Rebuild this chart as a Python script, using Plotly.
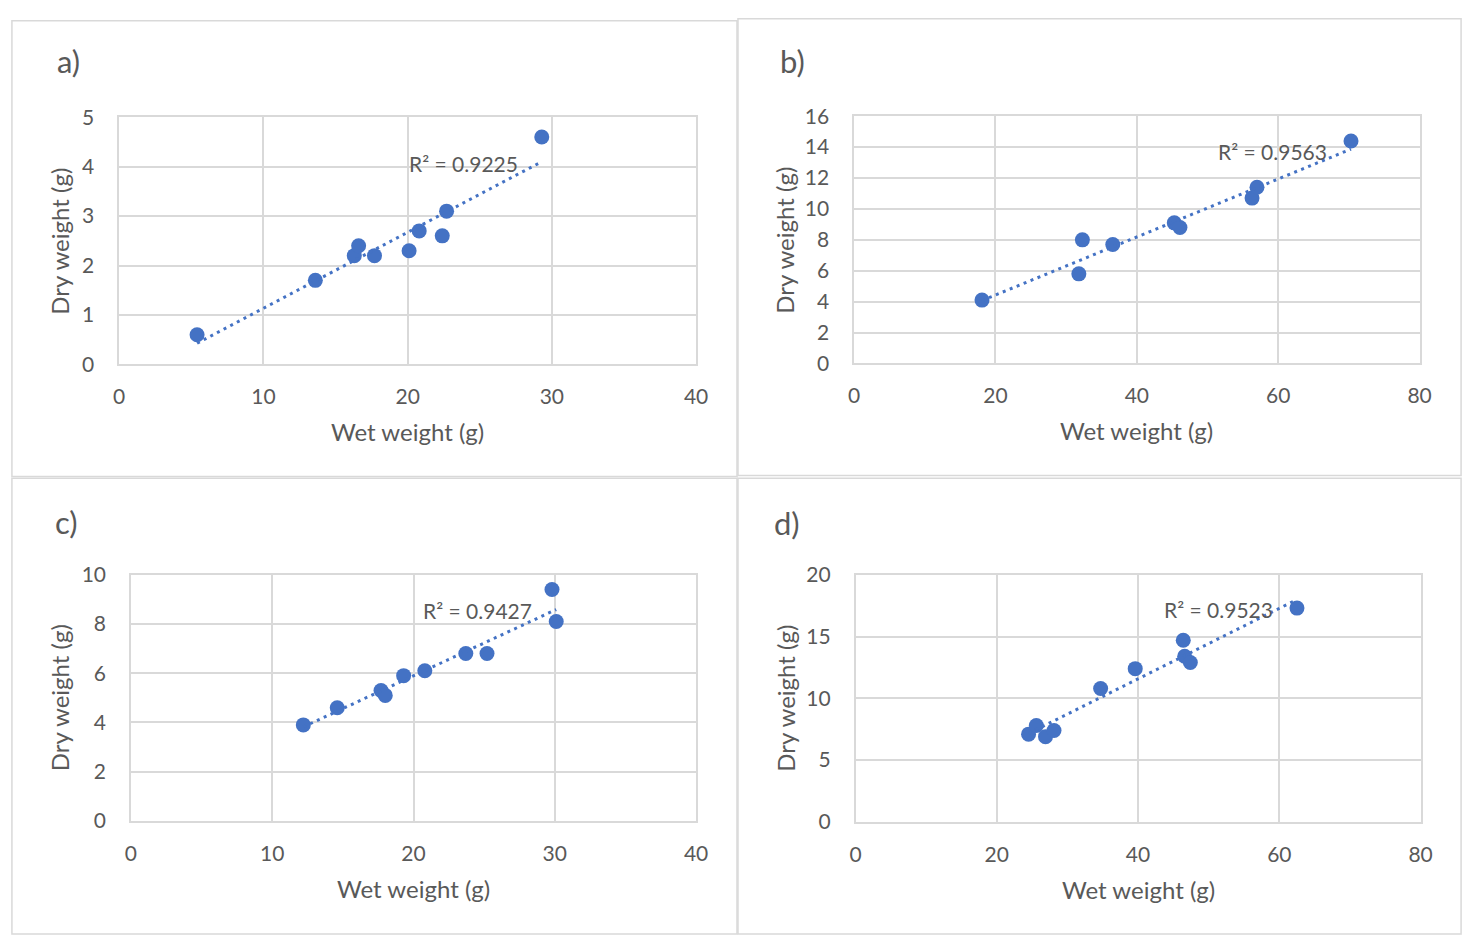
import numpy as np
import plotly.graph_objects as go

# Wet vs dry weight (g) for four sample groups
wet_a = [5.4, 13.6, 16.3, 16.6, 17.7, 20.1, 20.8, 22.4, 22.7, 29.3]
dry_a = [0.6, 1.7, 2.2, 2.4, 2.2, 2.3, 2.7, 2.6, 3.1, 4.6]

wet_b = [18.1, 31.8, 32.3, 36.6, 45.3, 46.1, 56.3, 57.0, 70.3]
dry_b = [4.1, 5.8, 8.0, 7.7, 9.1, 8.8, 10.7, 11.4, 14.4]

wet_c = [12.2, 14.6, 17.7, 18.0, 19.3, 20.8, 23.7, 25.2, 29.8, 30.1]
dry_c = [3.9, 4.6, 5.3, 5.1, 5.9, 6.1, 6.8, 6.8, 9.4, 8.1]

wet_d = [24.5, 25.6, 26.9, 28.1, 34.7, 39.6, 46.4, 46.6, 47.4, 62.5]
dry_d = [7.1, 7.8, 6.9, 7.4, 10.8, 12.4, 14.7, 13.4, 12.9, 17.3]

panel_labels = ["a)", "b)", "c)", "d)"]
r2_labels = ["R² = 0.9225", "R² = 0.9563", "R² = 0.9427", "R² = 0.9523"]
x_ranges = [[0, 40], [0, 80], [0, 40], [0, 80]]
x_dticks = [10, 20, 10, 20]
y_ranges = [[0, 5], [0, 16], [0, 10], [0, 20]]
y_dticks = [1, 2, 2, 5]
# label anchor in data units of each panel
r2_pos = [(23.9, 4.06), (59.2, 13.7), (24.5, 8.54), (51.4, 17.2)]

W, H = 1479, 941
BLUE = "#4472C4"
GRID = "#d9d9d9"
TXT = "#595959"
FONT = "Lato"

# plot areas in pixels: (left, right, top, bottom)
plot_px = [(114.6, 698.6, 106, 360),
           (858.5, 1431, 105, 359),
           (126.5, 698.6, 576, 829),
           (860, 1432, 576, 830)]
# distance from plot left edge to the vertical axis title
ytitle_gap = [60, 70, 71.5, 71]
# outer frames in pixels
frame_px = [(6, 740, 7, 475), (741, 1473, 5, 474),
            (6, 740, 477, 945), (741, 1473, 477, 945)]
# panel letter positions
letter_px = [(63, 48), (796, 48), (61, 522), (791, 523)]

data = [(wet_a, dry_a), (wet_b, dry_b), (wet_c, dry_c), (wet_d, dry_d)]

def px_x(p):
    return p / W

def px_y(p):
    return 1 - p / H

fig = go.Figure()
annotations = []
shapes = []

for i, (wx, dy) in enumerate(data):
    n = "" if i == 0 else str(i + 1)
    xa, ya = "x" + n, "y" + n
    l, r, t, b = plot_px[i]

    fig.add_trace(go.Scatter(
        x=wx, y=dy, mode="markers", xaxis=xa, yaxis=ya,
        marker=dict(color=BLUE, size=15, line=dict(width=0)),
        showlegend=False, hoverinfo="x+y"))

    # least-squares linear trendline spanning the data range
    slope, icpt = np.polyfit(wx, dy, 1)
    xs = np.array([min(wx), max(wx)])
    fig.add_trace(go.Scatter(
        x=xs, y=slope * xs + icpt, mode="lines", xaxis=xa, yaxis=ya,
        line=dict(color=BLUE, width=3, dash="3px,4.5px"),
        showlegend=False, hoverinfo="skip"))

    axis_common = dict(showgrid=True, gridcolor=GRID, gridwidth=1.5,
                       showline=True, linecolor=GRID, linewidth=1.5, mirror=True,
                       zeroline=False, ticks="",
                       tickfont=dict(family=FONT, size=21, color=TXT))
    fig.update_layout(**{
        ("xaxis" + n): dict(domain=[px_x(l), px_x(r)], range=x_ranges[i],
                            dtick=x_dticks[i], tick0=0, anchor=ya,
                            ticklabelstandoff=13, **axis_common),
        ("yaxis" + n): dict(domain=[px_y(b), px_y(t)], range=y_ranges[i],
                            dtick=y_dticks[i], tick0=0, anchor=xa,
                            ticklabelstandoff=19, **axis_common),
    })

    # axis titles
    annotations.append(dict(
        text="Wet weight (g)", x=px_x((l + r) / 2), y=px_y(b + 69),
        xref="paper", yref="paper", showarrow=False,
        xanchor="center", yanchor="middle",
        font=dict(family=FONT, size=24, color=TXT)))
    annotations.append(dict(
        text="Dry weight (g)", x=px_x(l - ytitle_gap[i]), y=px_y((t + b) / 2),
        xref="paper", yref="paper", showarrow=False, textangle=-90,
        xanchor="center", yanchor="middle",
        font=dict(family=FONT, size=24, color=TXT)))

    # R² label
    rx, ry = r2_pos[i]
    annotations.append(dict(
        text=r2_labels[i], x=rx, y=ry, xref=xa, yref=ya, showarrow=False,
        xanchor="center", yanchor="middle",
        font=dict(family=FONT, size=21, color=TXT)))

    # panel letter
    lx, ly = letter_px[i]
    annotations.append(dict(
        text=panel_labels[i], x=px_x(lx), y=px_y(ly),
        xref="paper", yref="paper", showarrow=False,
        xanchor="center", yanchor="middle",
        font=dict(family=FONT, size=31, color=TXT)))

    # panel frame
    fl, fr, ft, fb = frame_px[i]
    shapes.append(dict(type="rect", xref="paper", yref="paper",
                       x0=px_x(fl), x1=px_x(fr), y0=px_y(fb), y1=px_y(ft),
                       line=dict(color=GRID, width=1.5)))

fig.update_layout(
    width=W, height=H, margin=dict(l=0, r=0, t=0, b=0),
    paper_bgcolor="white", plot_bgcolor="white",
    annotations=annotations, shapes=shapes,
    font=dict(family=FONT, color=TXT),
)

fig.write_html("out.html")
